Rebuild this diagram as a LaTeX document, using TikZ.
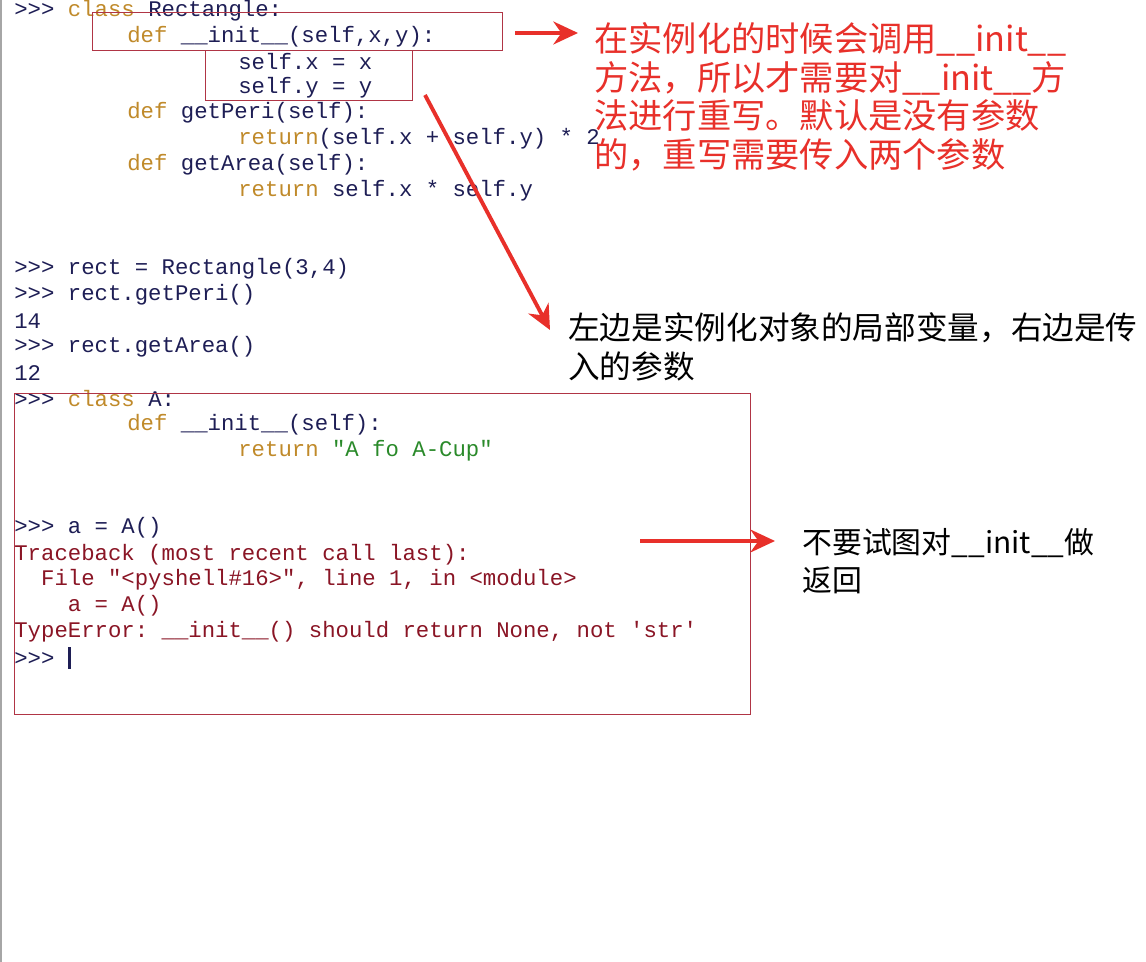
\documentclass[tikz,border=0pt]{standalone}
\usepackage{fontspec}
\setmonofont{Liberation Mono}
\newfontfamily\cjk{Noto Sans CJK SC}
\usetikzlibrary{positioning,arrows.meta}
\definecolor{kwcol}{HTML}{C08A2A}
\definecolor{namecol}{HTML}{1E1E55}
\definecolor{errcol}{HTML}{8A1525}
\definecolor{strcol}{HTML}{2A8A2A}
\definecolor{boxcol}{HTML}{B03545}
\definecolor{arrcol}{HTML}{E8302A}
\newcommand\kw[1]{\textcolor{kwcol}{#1}}
\begin{document}
\begin{tikzpicture}[x=0.02cm, y=-0.02cm]
                \tikzset{code/.style={anchor=west, inner sep=0pt, text=namecol, font=\ttfamily\fontsize{12.7}{15}\selectfont},
                    err/.style={code, text=errcol},
                    redbox/.style={draw=boxcol, line width=0.7pt, anchor=north west, inner sep=0pt},
                    note/.style={anchor=west, inner sep=0pt, align=left, font=\cjk\fontsize{19.5}{22}\selectfont},
                    bigarrow/.style={draw=arrcol, line width=2.2pt, -{Stealth[length=14pt, width=13pt]}}}
                \useasboundingbox[fill=white] (0, 0) rectangle (1146, 962);
                \draw[gray!70, line width=1.5pt] (1, 0) -- (1, 962);
                % first class
                \node[code] (l1) at (14, 11) {>>> \kw{class} Rectangle:};
                \node[code] (l2) at (127, 37) {\kw{def} \_\_init\_\_(self,x,y):};
                \node[code] (l3) at (238, 62) {self.x = x};
                \node[code] (l4) at (238, 88) {self.y = y};
                \node[code] (l5) at (127, 113) {\kw{def} getPeri(self):};
                \node[code] (l6) at (238, 139) {\kw{return}(self.x + self.y) * 2};
                \node[code] (l7) at (127, 165) {\kw{def} getArea(self):};
                \node[code] (l8) at (238, 191) {\kw{return} self.x * self.y};
                \node[code] (l9) at (14, 269) {>>> rect = Rectangle(3,4)};
                \node[code] (l10) at (14, 295) {>>> rect.getPeri()};
                \node[code] (l11) at (14, 321) {14};
                \node[code] (l12) at (14, 347) {>>> rect.getArea()};
                \node[code] (l13) at (14, 373) {12};
                % second class
                \node[code] (m1) at (14, 399) {>>> \kw{class} A:};
                \node[code] (m2) at (127, 425) {\kw{def} \_\_init\_\_(self):};
                \node[code] (m3) at (238, 451) {\kw{return} \textcolor{strcol}{"A fo A-Cup"}};
                \node[code] (m4) at (14, 528) {>>> a = A()};
                \node[err] (m5) at (14, 555) {Traceback (most recent call last):};
                \node[err] (m6) at (14, 580) {\ \ File "<pyshell\#16>", line 1, in <module>};
                \node[err] (m7) at (14, 606) {\ \ \ \ a = A()};
                \node[err] (m8) at (14, 632) {TypeError: \_\_init\_\_() should return None, not 'str'};
                \node[code] (m9) at (14, 658) {>>> \rule[-2pt]{1.5pt}{12pt}};
                % boxes
                \node[redbox, minimum width=8.2cm, minimum height=0.76cm] (initbox) at (92, 12) {};
                \node[redbox, minimum width=4.14cm, minimum height=1cm] (selfbox) at (205, 50) {};
                \node[redbox, minimum width=14.72cm, minimum height=6.42cm] (classbox) at (14, 393) {};
                % notes
                \node[note, text=arrcol] (n1) at (594, 97) {在实例化的时候会调用\_\_init\_\_\\方法，所以才需要对\_\_init\_\_方\\法进行重写。默认是没有参数\\的，重写需要传入两个参数};
                \node[note, font=\cjk\fontsize{18}{22}\selectfont] (n2) at (568, 347) {左边是实例化对象的局部变量，右边是传\\入的参数};
                \node[note, font=\cjk\fontsize{17}{22}\selectfont] (n3) at (802, 561) {不要试图对\_\_init\_\_做\\返回};
                % arrows
                \coordinate (a1) at (515, 33);
                \coordinate (a2) at (425, 95);
                \coordinate (a3) at (640, 541);
                \draw[bigarrow] (a1) -- (578, 33);
                \draw[bigarrow] (a2) -- (550, 330);
                \draw[bigarrow] (a3) -- (775, 541);
            \end{tikzpicture}
\end{document}
